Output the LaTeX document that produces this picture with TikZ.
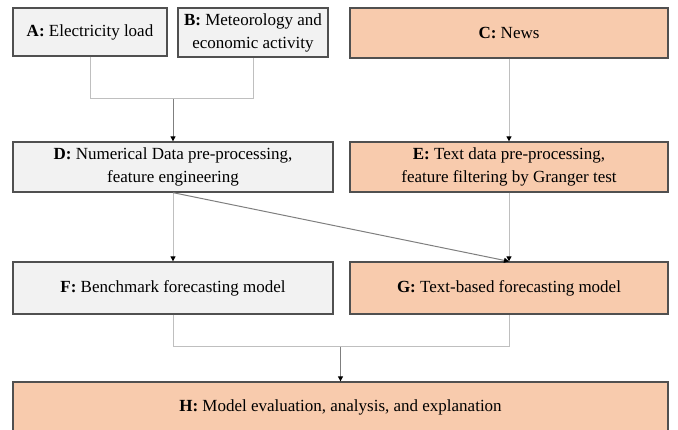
\documentclass[tikz,border=0pt]{standalone}
\usepackage{fontspec}
\setmainfont{Liberation Serif}
\newfontfamily\labelface{Liberation Serif}
\usetikzlibrary{arrows.meta}

\definecolor{boxgray}{HTML}{F2F2F2}
\definecolor{boxorange}{HTML}{F8CBAD}
\definecolor{boxedge}{HTML}{505050}
\definecolor{lightline}{HTML}{BFBFBF}
\definecolor{darkline}{HTML}{7F7F7F}

\tikzset{
  x=1pt, y=-1pt,
  stage/.style={draw=boxedge, line width=1.3pt, rectangle, align=center,
    inner sep=0pt, font={\labelface\fontsize{17}{23}\selectfont}},
  graybox/.style={stage, fill=boxgray},
  orangebox/.style={stage, fill=boxorange},
  joinline/.style={draw=lightline, line width=1pt},
  feed/.style={line width=1pt, -{Triangle[width=5pt,length=5pt,color=black]}},
}

\begin{document}
\begin{tikzpicture}
  \useasboundingbox (0,0) rectangle (678,430);

  % data sources
  \node[graybox, minimum width=154pt, minimum height=48pt] (A) at (90,32)
    {\textbf{A:} Electricity load};
  \node[graybox, minimum width=150pt, minimum height=49pt] (B) at (253,32.5)
    {\textbf{B:} Meteorology and\\economic activity};
  \node[orangebox, minimum width=318pt, minimum height=50pt] (C) at (509,33)
    {\textbf{C:} News};

  % pre-processing
  \node[graybox, minimum width=320pt, minimum height=50pt] (D) at (173,167)
    {\textbf{D:} Numerical Data pre-processing,\\feature engineering};
  \node[orangebox, minimum width=318pt, minimum height=50pt] (E) at (509,167)
    {\textbf{E:} Text data pre-processing,\\feature filtering by Granger test};

  % forecasting models
  \node[graybox, minimum width=320pt, minimum height=52pt] (F) at (173,288)
    {\textbf{F:} Benchmark forecasting model};
  \node[orangebox, minimum width=318pt, minimum height=52pt] (G) at (509,288)
    {\textbf{G:} Text-based forecasting model};

  % evaluation
  \node[orangebox, minimum width=655pt, minimum height=50pt] (H) at (340.5,407)
    {\textbf{H:} Model evaluation, analysis, and explanation};

  % junction points of the merging connectors
  \coordinate (j1) at (173,99);
  \coordinate (j2) at (340.5,347);

  % A and B merge into D
  \draw[joinline] (A.south) -- (A.south |- j1) -- (B.south |- j1) -- (B.south);
  \draw[feed, draw=darkline] (j1) -- (D.north);

  % C to E
  \draw[feed, draw=lightline] (C.south) -- (E.north);

  % pre-processing to models
  \draw[feed, draw=lightline] (D.south) -- (F.north);
  \draw[feed, draw=lightline] (E.south) -- (G.north);
  \draw[feed, draw=darkline] (D.south) -- (G.north);

  % F and G merge into H
  \draw[joinline] (F.south) -- (F.south |- j2) -- (G.south |- j2) -- (G.south);
  \draw[feed, draw=darkline] (j2) -- (H.north);
\end{tikzpicture}
\end{document}
